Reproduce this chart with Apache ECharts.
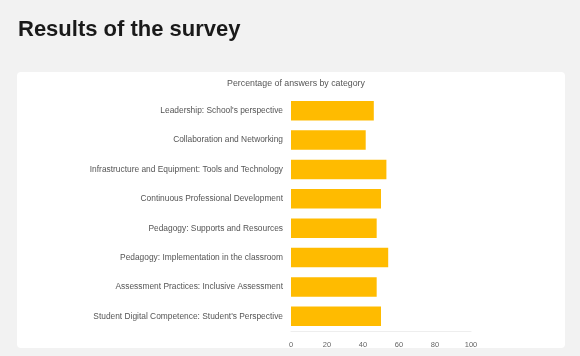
<!DOCTYPE html>
<html>
<head>
<meta charset="utf-8">
<script src="https://cdn.jsdelivr.net/npm/echarts@6/dist/echarts.min.js"></script>
<style>
html,body{margin:0;padding:0;width:580px;height:356px;background:#f2f2f2;overflow:hidden;font-family:"Liberation Sans",Arial,sans-serif;}
#card{position:absolute;left:17px;top:72px;width:548px;height:276px;background:#ffffff;border-radius:4px;}
#chart{position:absolute;left:0;top:0;width:580px;height:356px;}
</style>
</head>
<body>
<div id="card"></div>
<div id="chart"></div>
<script>
const pageTitle = "Results of the survey";
const chartTitle = "Percentage of answers by category";
const categories = [
  "Leadership: School's perspective",
  "Collaboration and Networking",
  "Infrastructure and Equipment: Tools and Technology",
  "Continuous Professional Development",
  "Pedagogy: Supports and Resources",
  "Pedagogy: Implementation in the classroom",
  "Assessment Practices: Inclusive Assessment",
  "Student Digital Competence: Student's Perspective"
];
const values = [46, 41.5, 53, 50, 47.6, 54, 47.6, 50];
const xTicks = [0, 20, 40, 60, 80, 100];

const chart = echarts.init(document.getElementById('chart'), null, {renderer:'canvas'});
chart.setOption({
  backgroundColor: 'transparent',
  animation: false,
  title: [
    {text: pageTitle, left: 13, top: 14,
     textStyle:{fontFamily:'Liberation Sans, Arial', fontSize:22, fontWeight:'bold', color:'#1a1a1a'}},
    {text: chartTitle, left: 291, top: 74, textAlign:'center',
     textStyle:{fontFamily:'Liberation Sans, Arial', fontSize:8.8, fontWeight:'normal', color:'#555'}}
  ],
  grid: {left: 291, right: 109, top: 96, bottom: 25},
  xAxis: {
    type: 'value', min: xTicks[0], max: xTicks[xTicks.length-1], interval: 20,
    axisLine:{show:true, lineStyle:{color:'#eeeeee'}},
    axisTick:{show:false},
    splitLine:{show:false},
    axisLabel:{color:'#666', fontSize:7.5, margin:10, fontFamily:'Liberation Sans, Arial'}
  },
  yAxis: {
    type: 'category', data: categories, inverse: true,
    axisLine:{show:false}, axisTick:{show:false},
    axisLabel:{color:'#555', fontSize:8.4, margin:8, fontFamily:'Liberation Sans, Arial'}
  },
  series: [{
    type: 'bar', data: values, barWidth: '66%',
    itemStyle:{color:'#ffbb00'}
  }]
});
</script>
</body>
</html>
